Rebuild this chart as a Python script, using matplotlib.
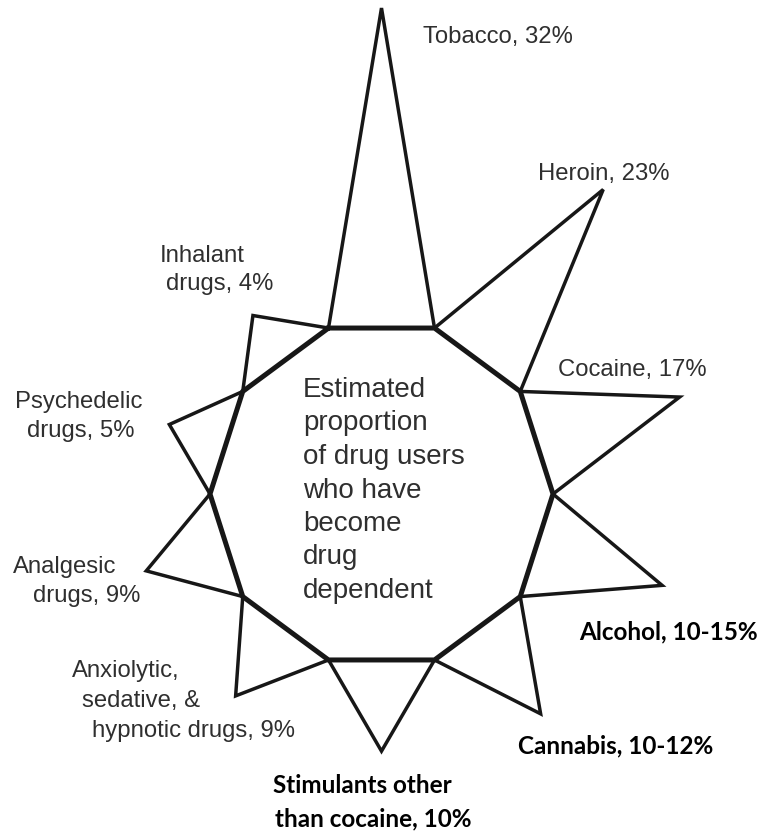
import numpy as np
import matplotlib
matplotlib.use("Agg")
import matplotlib.pyplot as plt

# ---- data -------------------------------------------------------------
drugs = ["Tobacco", "Heroin", "Cocaine", "Alcohol", "Cannabis",
         "Stimulants other than cocaine",
         "Anxiolytic, sedative, & hypnotic drugs",
         "Analgesic drugs", "Psychedelic drugs", "Inhalant drugs"]
pct_low = [32, 23, 17, 10, 10, 10, 9, 9, 5, 4]
pct_high = [32, 23, 17, 15, 12, 10, 9, 9, 5, 4]
labels = ["Tobacco, 32%", "Heroin, 23%", "Cocaine, 17%",
          "Alcohol, 10-15%", "Cannabis, 10-12%",
          "Stimulants other\nthan cocaine, 10%",
          "Anxiolytic,\nsedative, &\nhypnotic drugs, 9%",
          "Analgesic\ndrugs, 9%", "Psychedelic\ndrugs, 5%",
          "Inhalant\ndrugs, 4%"]
highlight = [False, False, False, True, True, True, False, False, False, False]
center_title = ["Estimated", "proportion", "of drug users", "who have",
                "become", "drug", "dependent"]

# ---- layout (pixel units, y grows downward) ---------------------------
W, H = 759, 832
CX, CY = 381.5, 494.0          # centre of the decagon
RX, RY = 171.5, 174.5          # decagon radii
LINE = "#171717"
GREY_TXT = "#2f2f2f"

# label placement: (x, baseline) for each text line
label_pos = [
    [(423, 43)],
    [(538, 180)],
    [(558, 376)],
    [(579, 639)],
    [(518, 753)],
    [(273, 793), (275, 826)],
    [(72, 677), (82, 707), (92, 737)],
    [(13, 573), (33, 602)],
    [(15, 408), (27, 437)],
    [(160, 262), (166, 290)],
]


def spike_length(v):
    """Spike height (px) on a power-1.5 scale spanning 4% .. 32%."""
    v = np.asarray(v, dtype=float)
    return np.interp(v ** 1.5, [4 ** 1.5, 32 ** 1.5], [55.0, 320.0])


fig = plt.figure(figsize=(W / 100, H / 100), dpi=100)
ax = fig.add_axes([0, 0, 1, 1])
ax.set_xlim(0, W)
ax.set_ylim(H, 0)
ax.axis("off")

# decagon vertices, starting at the upper-left corner and going clockwise
ang = np.deg2rad(108 - 36 * np.arange(10))
vx = CX + RX * np.cos(ang)
vy = CY - RY * np.sin(ang)

lengths = spike_length(pct_high)
for i in range(10):
    x0, y0 = vx[i], vy[i]
    x1, y1 = vx[(i + 1) % 10], vy[(i + 1) % 10]
    mx, my = (x0 + x1) / 2, (y0 + y1) / 2
    nx, ny = (y1 - y0), -(x1 - x0)
    nrm = np.hypot(nx, ny)
    nx, ny = nx / nrm, ny / nrm
    if nx * (mx - CX) + ny * (my - CY) < 0:
        nx, ny = -nx, -ny
    px, py = mx + lengths[i] * nx, my + lengths[i] * ny
    ax.plot([x0, px, x1], [y0, py, y1], color=LINE, lw=2.5,
            solid_joinstyle="miter", solid_capstyle="round", zorder=2)

ax.plot(np.append(vx, vx[0]), np.append(vy, vy[0]), color=LINE, lw=3.6,
        solid_joinstyle="miter", zorder=3)

# spike labels
for text, pos, bold in zip(labels, label_pos, highlight):
    for line, (x, y) in zip(text.split("\n"), pos):
        if bold:
            ax.text(x, y, line, family="Lato", weight="bold", fontsize=17.5,
                    color="#000000", ha="left", va="baseline")
        else:
            ax.text(x, y, line, family="Liberation Sans", fontsize=17.2,
                    color=GREY_TXT, ha="left", va="baseline")

# centre caption
for k, line in enumerate(center_title):
    ax.text(303, 397 + 33.5 * k, line, family="Liberation Sans",
            fontsize=20, color=GREY_TXT, ha="left", va="baseline")

fig.savefig("out.png", dpi=100, facecolor="white")
